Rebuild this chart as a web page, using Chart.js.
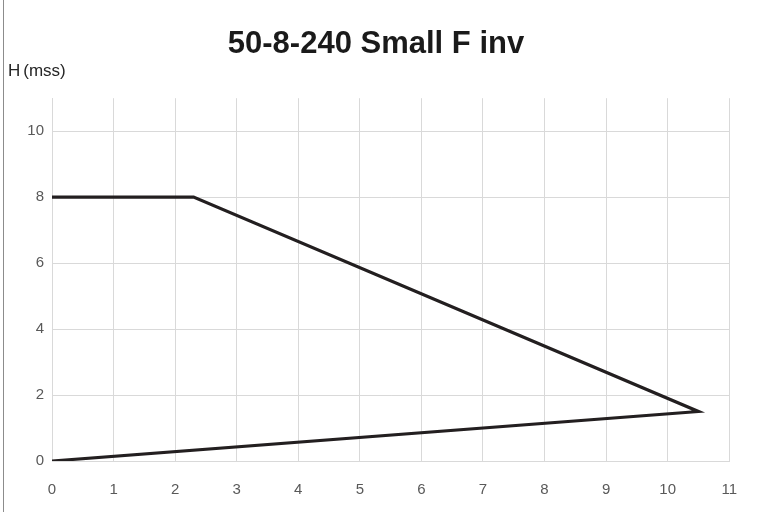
<!DOCTYPE html>
<html>
<head>
<meta charset="utf-8">
<script src="https://cdn.jsdelivr.net/npm/chart.js@4"></script>
<style>
  body { margin: 0; background: #fff; }
  .wrap { position: relative; width: 757px; height: 515px; }
  .edge { position: absolute; left: 3px; top: 0; width: 1px; height: 512px; background: #8c8c8c; }
  .ylabel { position: absolute; left: 8px; top: 61px; font: 17px "Liberation Sans", Arial, sans-serif; color: #262626; }
</style>
</head>
<body>
<div class="wrap">
  <canvas id="chart" width="757" height="515"></canvas>
  <div class="edge"></div>
  <div class="ylabel">H<span style="margin-left:3px">(mss)</span></div>
</div>
<script>
const flowX = [0, 2.3, 10.5, 0];
const headY = [8, 8, 1.5, 0];
const yTicks = [0, 2, 4, 6, 8, 10];

const ctx = document.getElementById('chart');

new Chart(ctx, {
    type: 'scatter',
    data: {
        datasets: [{
            data: flowX.map((x, i) => ({ x: x, y: headY[i] })),
            showLine: true,
            borderColor: '#231f20',
            borderWidth: 3.2,
            pointRadius: 0,
            tension: 0,
        }],
    },
    options: {
        responsive: false,
        animation: false,
        layout: { padding: { left: 22, right: 27, top: 0, bottom: 0 } },
        plugins: {
            legend: { display: false },
            tooltip: { enabled: false },
            title: {
                display: true,
                text: '50-8-240 Small F inv',
                color: '#1a1a1a',
                font: { family: 'Liberation Sans', size: 31, weight: 'bold' },
                padding: { top: 26, bottom: 35 },
            },
        },
        scales: {
            x: {
                type: 'linear',
                min: 0,
                max: 11,
                ticks: {
                    stepSize: 1,
                    padding: 20,
                    color: '#595959',
                    font: { family: 'Liberation Sans', size: 15 },
                },
                grid: { color: '#d9d9d9', drawTicks: false, lineWidth: 1 },
                border: { color: '#d9d9d9' },
                afterFit: axis => { axis.height = 54; },
            },
            y: {
                type: 'linear',
                min: 0,
                max: 11,
                afterBuildTicks: axis => {
                    axis.ticks = yTicks.map(v => ({ value: v }));
                },
                ticks: {
                    padding: 8,
                    color: '#595959',
                    font: { family: 'Liberation Sans', size: 15 },
                },
                grid: { color: '#d9d9d9', drawTicks: false, lineWidth: 1 },
                border: { color: '#d9d9d9' },
                afterFit: axis => { axis.width = 30; },
            },
        },
    },
});
</script>
</body>
</html>
